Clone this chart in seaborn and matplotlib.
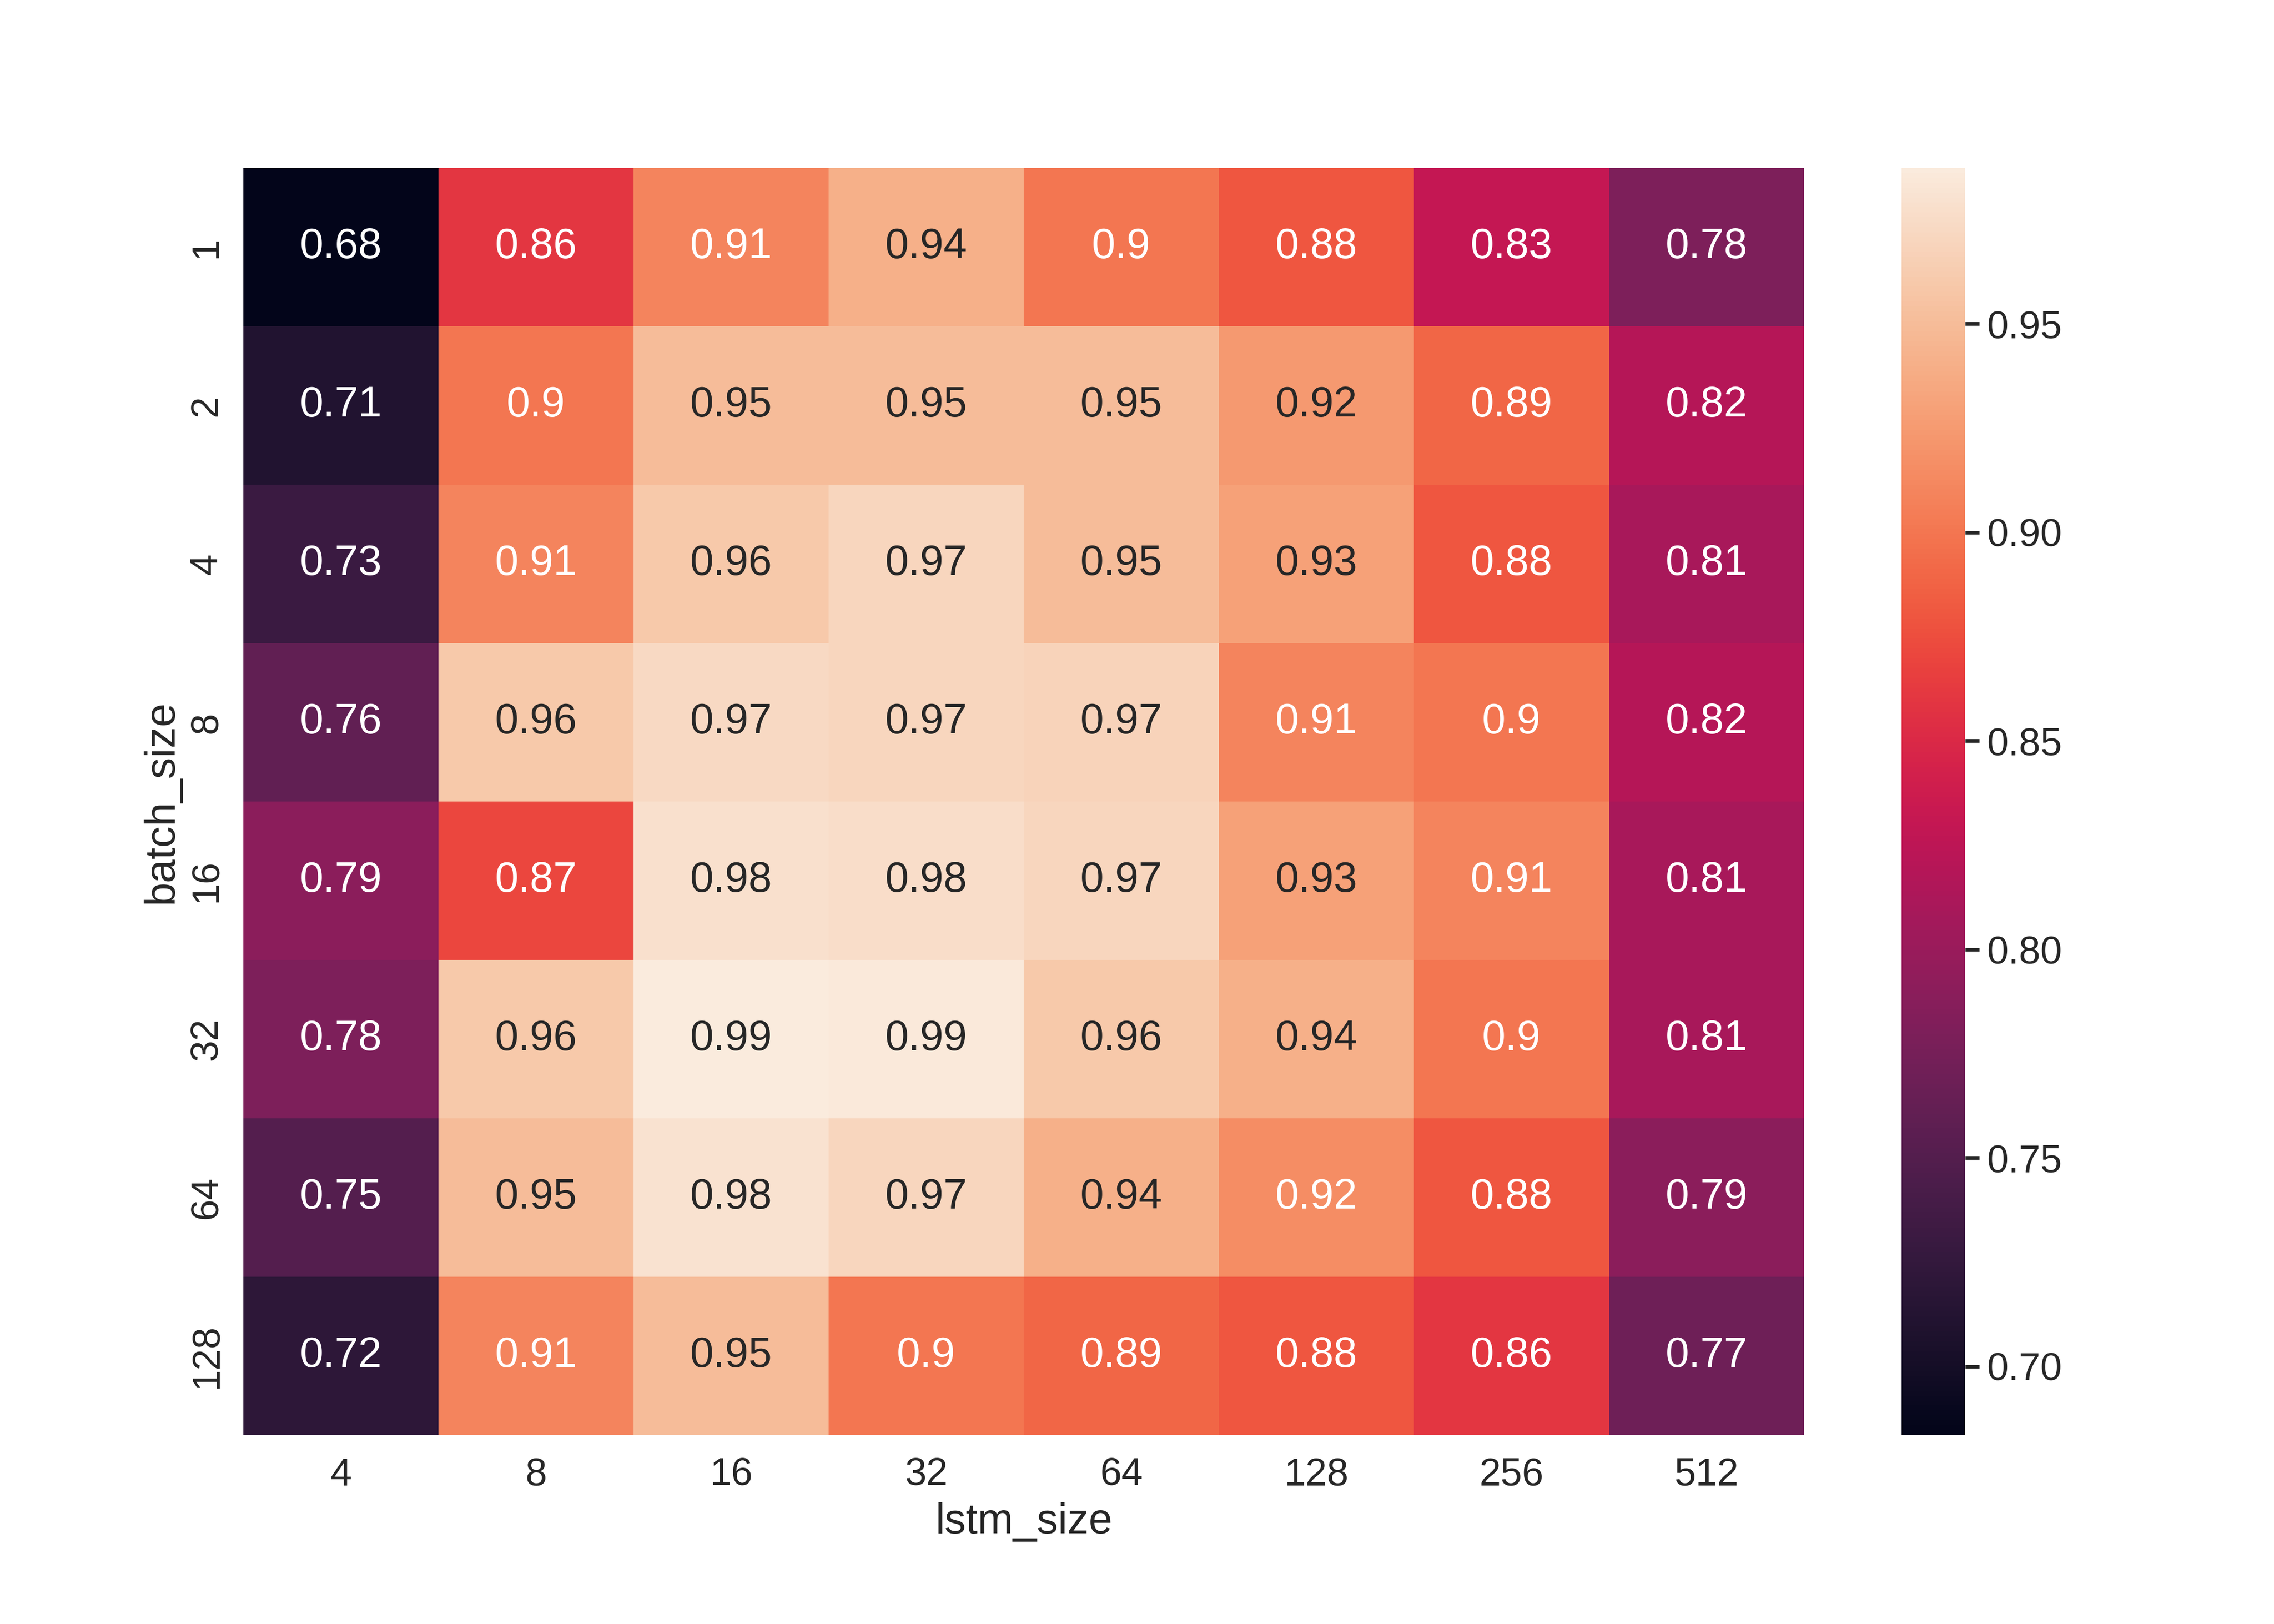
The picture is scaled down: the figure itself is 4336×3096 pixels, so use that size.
import matplotlib
matplotlib.use("Agg")
import matplotlib.pyplot as plt
import pandas as pd
import seaborn as sns

# grid search results: rows = batch_size, columns = lstm_size
batch_sizes = [1, 2, 4, 8, 16, 32, 64, 128]
lstm_sizes = [4, 8, 16, 32, 64, 128, 256, 512]

acc_bs1 = [0.6835, 0.86, 0.91, 0.94, 0.90, 0.88, 0.83, 0.78]
acc_bs2 = [0.71, 0.90, 0.95, 0.95, 0.95, 0.924, 0.89, 0.82]
acc_bs4 = [0.73, 0.91, 0.96, 0.97, 0.95, 0.93, 0.88, 0.81]
acc_bs8 = [0.76, 0.96, 0.972, 0.97, 0.968, 0.91, 0.90, 0.82]
acc_bs16 = [0.79, 0.87, 0.978, 0.976, 0.97, 0.93, 0.91, 0.81]
acc_bs32 = [0.78, 0.96, 0.9874, 0.986, 0.96, 0.94, 0.90, 0.81]
acc_bs64 = [0.75, 0.95, 0.98, 0.97, 0.94, 0.916, 0.88, 0.79]
acc_bs128 = [0.72, 0.91, 0.95, 0.90, 0.89, 0.88, 0.86, 0.77]

rows = [acc_bs1, acc_bs2, acc_bs4, acc_bs8, acc_bs16, acc_bs32, acc_bs64, acc_bs128]
df = pd.DataFrame(rows, index=batch_sizes, columns=lstm_sizes)
df.index.name = "batch_size"
df.columns.name = "lstm_size"

sns.set_theme(style="white")
plt.rcParams['font.family'] = ['Liberation Sans', 'DejaVu Sans']

W, H = 4336, 3096
fig = plt.figure(figsize=(W / 400, H / 400), dpi=400)
ax = fig.add_axes([464 / W, 360 / H, 2976 / W, 2416 / H])
cax = fig.add_axes([3626 / W, 360 / H, 121 / W, 2416 / H])

sns.heatmap(df, annot=True, ax=ax, cbar_ax=cax, annot_kws={"size": 14.5})

ax.tick_params(axis='x', labelsize=13.25, length=0, pad=7.5)
ax.tick_params(axis='y', labelsize=13.25, length=0, pad=6.4)
ax.set_xlabel("lstm_size", fontsize=14.6, labelpad=3.1)
ax.set_ylabel("batch_size", fontsize=14.6, labelpad=2.5)

cax.tick_params(labelsize=13.25, length=4.9, width=1.26, pad=2.5, right=True)

fig.savefig("out.png", dpi=400)
